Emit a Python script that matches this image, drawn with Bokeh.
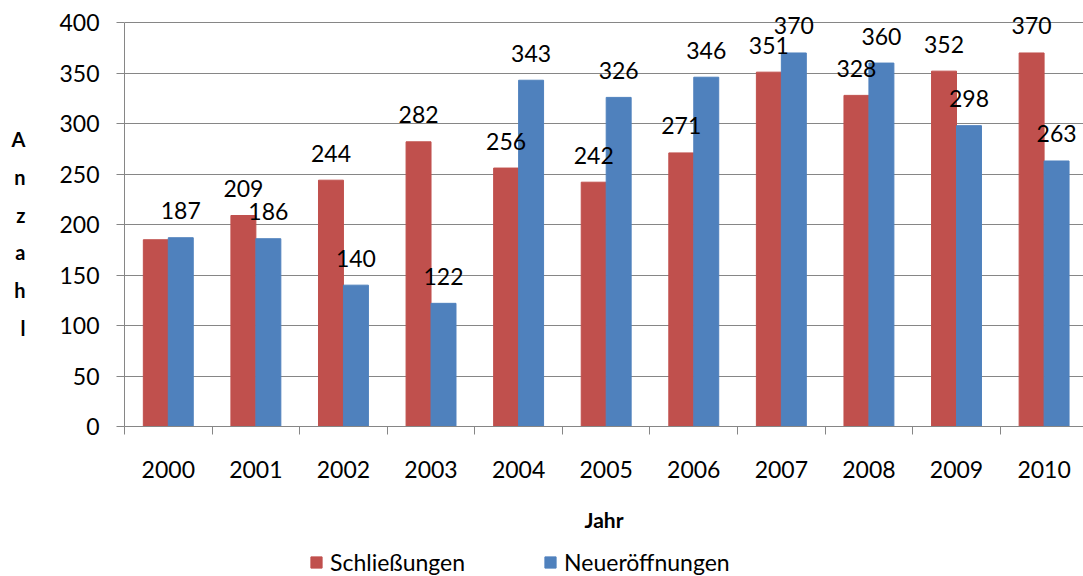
import numpy as np
from bokeh.plotting import figure
from bokeh.layouts import column
from bokeh.models import ColumnDataSource, FixedTicker, Legend, LegendItem, Range1d
from bokeh.core.properties import value
from bokeh.embed import file_html
from bokeh.resources import INLINE

years = ["2000", "2001", "2002", "2003", "2004", "2005", "2006", "2007", "2008", "2009", "2010"]
schliessungen = [185, 209, 244, 282, 256, 242, 271, 351, 328, 352, 370]
neueroeffnungen = [187, 186, 140, 122, 343, 326, 346, 370, 360, 298, 263]
schliessungen_labels = ["", "209", "244", "282", "256", "242", "271", "351", "328", "352", "370"]
neueroeffnungen_labels = ["187", "186", "140", "122", "343", "326", "346", "370", "360", "298", "263"]
series_names = ["Schließungen", "Neueröffnungen"]
y_ticks = [0, 50, 100, 150, 200, 250, 300, 350, 400]

RED = "#C0504D"
BLUE = "#4F81BD"
GRID = "#868686"
FONT = "Lato"

idx = np.arange(len(years))
centers = idx + 0.5
bw = 0.285

src_r = ColumnDataSource(dict(x=centers - bw / 2, top=schliessungen, lab=schliessungen_labels))
src_b = ColumnDataSource(dict(x=centers + bw / 2, top=neueroeffnungen, lab=neueroeffnungen_labels))

p = figure(width=1083, height=536, x_range=Range1d(0, 10.95), y_range=Range1d(0, 420),
           output_backend="svg", toolbar_location=None,
           min_border_left=124, min_border_right=0, min_border_top=2, min_border_bottom=110)
p.outline_line_color = None
p.background_fill_color = "white"

r_red = p.vbar(x="x", top="top", width=bw, source=src_r, fill_color=RED, line_color=RED)
r_blue = p.vbar(x="x", top="top", width=bw, source=src_b, fill_color=BLUE, line_color=BLUE)

for src in (src_r, src_b):
    p.text(x="x", y="top", text="lab", source=src, text_align="center", text_baseline="middle",
           y_offset=-27, x_offset=0, text_font=value(FONT), text_font_size="23px", text_color="black")

# grid
p.xgrid.visible = False
p.ygrid.ticker = FixedTicker(ticks=y_ticks)
p.ygrid.grid_line_color = GRID
p.ygrid.grid_line_width = 1

# y axis
ya = p.yaxis[0]
ya.ticker = FixedTicker(ticks=y_ticks)
ya.bounds = (0, 400)
ya.axis_line_color = GRID
ya.major_tick_line_color = GRID
ya.major_tick_out = 8
ya.major_tick_in = 0
ya.minor_tick_out = 0
ya.minor_tick_in = 0
ya.major_label_standoff = 17
ya.major_label_text_font = FONT
ya.major_label_text_font_size = "23px"
ya.major_label_text_color = "black"
ya.axis_label = "\u00a0\nA\nn\nz\na\nh\nl"
ya.axis_label_orientation = "horizontal"
ya.axis_label_text_font = FONT
ya.axis_label_text_font_style = "bold"
ya.axis_label_text_font_size = "20px"
ya.axis_label_text_line_height = 1.57
ya.axis_label_standoff = 31
ya.axis_label_text_color = "black"

# x axis
xa = p.xaxis[0]
xa.ticker = FixedTicker(ticks=list(centers), minor_ticks=list(range(len(years) + 1)))
xa.major_label_overrides = {float(c): y for c, y in zip(centers, years)}
xa.axis_line_color = GRID
xa.major_tick_out = 0
xa.major_tick_in = 0
xa.minor_tick_out = 8
xa.minor_tick_in = 0
xa.minor_tick_line_color = GRID
xa.major_label_standoff = 26
xa.major_label_text_font = FONT
xa.major_label_text_font_size = "23px"
xa.major_label_text_color = "black"
xa.axis_label = "Jahr"
xa.axis_label_text_font = FONT
xa.axis_label_text_font_style = "bold"
xa.axis_label_text_font_size = "21px"
xa.axis_label_standoff = 26
xa.axis_label_text_color = "black"

# legend strip below the chart (its bars lie outside its view, only the legend shows)
lf = figure(width=1083, height=40, x_range=Range1d(100, 101), y_range=Range1d(1000, 1001),
            output_backend="svg", toolbar_location=None,
            x_axis_location=None, y_axis_location=None,
            min_border_left=0, min_border_right=0, min_border_top=0, min_border_bottom=0)
lf.outline_line_color = None
lf.grid.visible = False
l_red = lf.vbar(x=centers, top=schliessungen, width=bw, fill_color=RED, line_color=RED)
l_blue = lf.vbar(x=centers, top=neueroeffnungen, width=bw, fill_color=BLUE, line_color=BLUE)

legend = Legend(items=[LegendItem(label=series_names[0], renderers=[l_red]),
                       LegendItem(label=series_names[1], renderers=[l_blue])],
                orientation="horizontal", location=(185, 0),
                label_text_font=FONT, label_text_font_size="23px", label_text_color="black",
                glyph_width=14, glyph_height=14, label_standoff=7, spacing=78,
                padding=0, margin=0, border_line_color=None, background_fill_alpha=0)
lf.add_layout(legend, "center")

open("out.html", "w").write(file_html(column(p, lf, spacing=0), INLINE))
